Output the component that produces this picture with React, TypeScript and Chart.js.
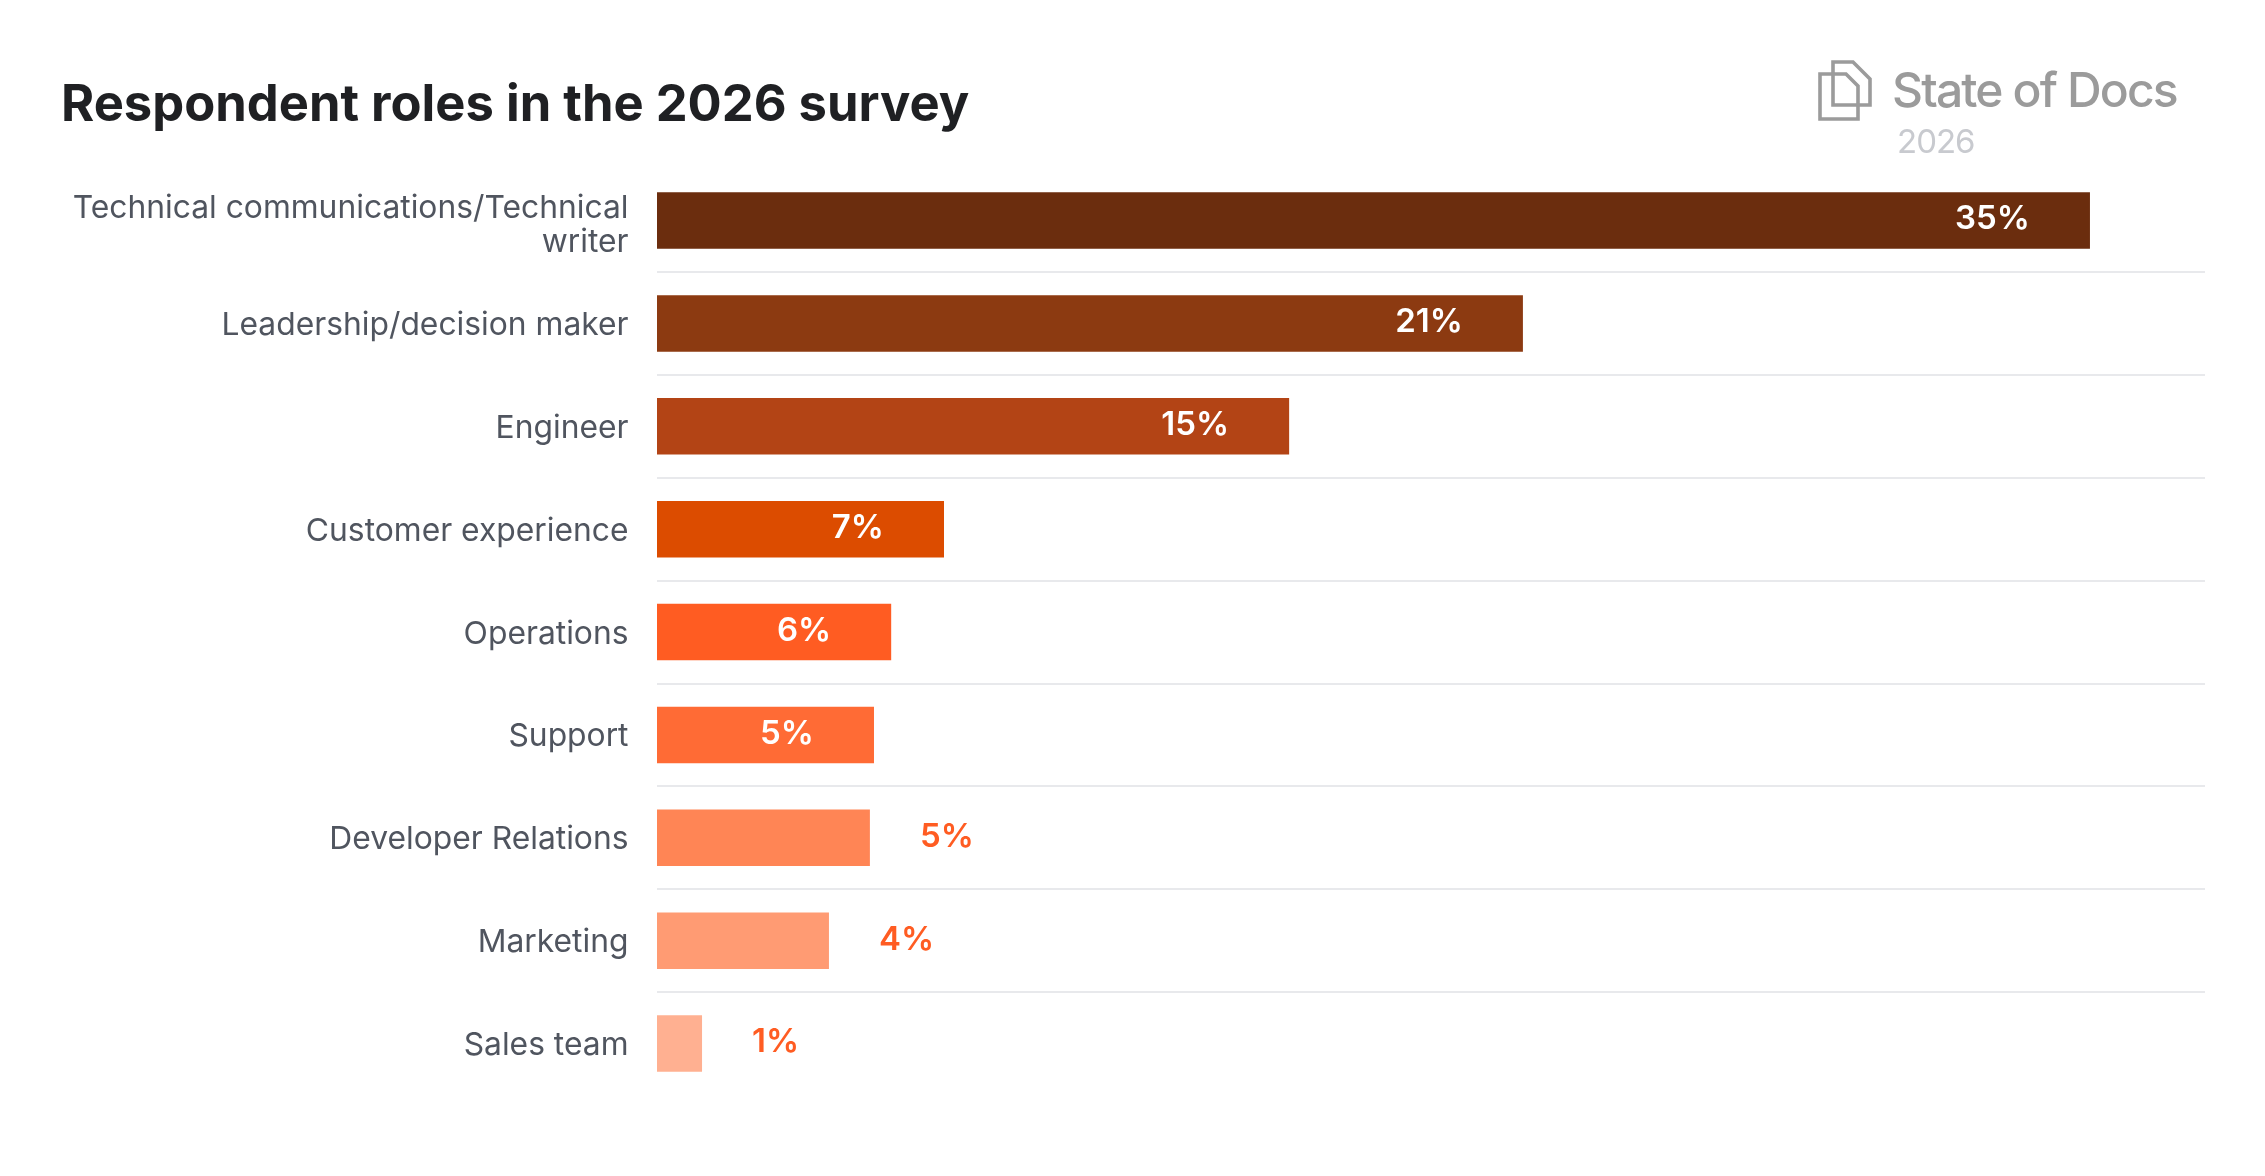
import React, { useEffect, useRef } from "react";
import { Chart, registerables } from "chart.js";

Chart.register(...registerables);

const TITLE = "Respondent roles in the 2026 survey";
const categories: (string | string[])[] = [
  ["Technical communications/Technical", "writer"],
  "Leadership/decision maker",
  "Engineer",
  "Customer experience",
  "Operations",
  "Support",
  "Developer Relations",
  "Marketing",
  "Sales team",
];
const values = [35.0, 21.15, 15.44, 7.01, 5.72, 5.3, 5.2, 4.2, 1.1];
const valueLabels = ["35%", "21%", "15%", "7%", "6%", "5%", "5%", "4%", "1%"];
const barColors = [
  "#6b2d0e",
  "#8c3a11",
  "#b34415",
  "#dc4c00",
  "#ff5c22",
  "#ff6b35",
  "#ff8555",
  "#ff9b73",
  "#ffb091",
];
const insideMinValue = 5.25;

const FONT = "Inter";

const valueLabelPlugin = {
  id: "valueLabels",
  beforeDraw(chart: any) {
    // the two-line first label sits a little lower than its bar
    const items = chart.scales.y.getLabelItems(chart.chartArea);
    if (items[0] && !items[0].nudged) {
      items[0].textOffset += 3;
      items[0].nudged = true;
    }
  },
  afterDatasetsDraw(chart: any) {
    const { ctx } = chart;
    const meta = chart.getDatasetMeta(0);
    ctx.save();
    ctx.font = `600 33px ${FONT}`;
    ctx.textBaseline = "middle";
    meta.data.forEach((bar: any, i: number) => {
      const inside = values[i] >= insideMinValue;
      ctx.fillStyle = inside ? "#ffffff" : "#ff5c22";
      ctx.textAlign = inside ? "right" : "left";
      ctx.fillText(valueLabels[i], inside ? bar.x - 60 : bar.x + 50, bar.y - 1);
    });
    ctx.restore();
  },
};

export default function App() {
  const ref = useRef<HTMLCanvasElement>(null);
  useEffect(() => {
    const chart = new Chart(ref.current!, {
      type: "bar",
      data: {
        labels: categories as any,
        datasets: [
          {
            data: values,
            backgroundColor: barColors,
            borderWidth: 0,
            barPercentage: 0.549,
            categoryPercentage: 1,
          },
        ],
      },
      options: {
        indexAxis: "y",
        animation: false,
        responsive: false,
        devicePixelRatio: 1,
        layout: { padding: { left: 61, right: 60, top: 0, bottom: 81 } },
        plugins: {
          legend: { display: false },
          tooltip: { enabled: false },
          title: {
            display: true,
            text: TITLE,
            align: "start",
            color: "#1f2023",
            font: { family: FONT, size: 50.7, weight: "700", lineHeight: 1.2 },
            padding: { top: 75.4, bottom: 32.9 },
          },
        },
        scales: {
          x: { display: false, min: 0, max: 37.81 },
          y: {
            afterFit: (s: any) => {
              s.width = 596;
            },
            border: { display: false },
            grid: {
              offset: true,
              drawTicks: false,
              lineWidth: 2,
              color: (c: any) =>
                c.type === "tick" && c.index > 0 ? "#e8e9ec" : "transparent",
            },
            ticks: {
              autoSkip: false,
              padding: 28.5,
              labelOffset: 2,
              color: "#50555f",
              font: { family: FONT, size: 31.8, weight: "400", lineHeight: 1.09 },
            },
          },
        },
      },
      plugins: [valueLabelPlugin],
    } as any);
    return () => chart.destroy();
  }, []);

  return (
    <div style={{ position: "fixed", left: 0, top: 0, width: 2265, height: 1176, background: "#fff" }}>
      <canvas ref={ref} width={2265} height={1176} style={{ display: "block" }} />
      <svg
        width={70}
        height={70}
        viewBox="1810 55 70 70"
        style={{ position: "absolute", left: 1810, top: 55 }}
      >
        <path
          d="M1833 62H1853L1870 79V105H1833Z M1820 74H1846L1858 86V119H1820Z"
          fill="none"
          stroke="#9b9b9b"
          strokeWidth={3.6}
        />
      </svg>
      <div
        style={{
          position: "absolute",
          left: 1892,
          top: 60,
          font: `500 48px/60px ${FONT}`,
          letterSpacing: "-1.85px",
          color: "#9b9b9b",
          whiteSpace: "nowrap",
        }}
      >
        State of Docs
      </div>
      <div
        style={{
          position: "absolute",
          left: 1897,
          top: 120,
          font: `400 33px/42px ${FONT}`,
          letterSpacing: "-1px",
          color: "#c8cacf",
          whiteSpace: "nowrap",
        }}
      >
        2026
      </div>
    </div>
  );
}
